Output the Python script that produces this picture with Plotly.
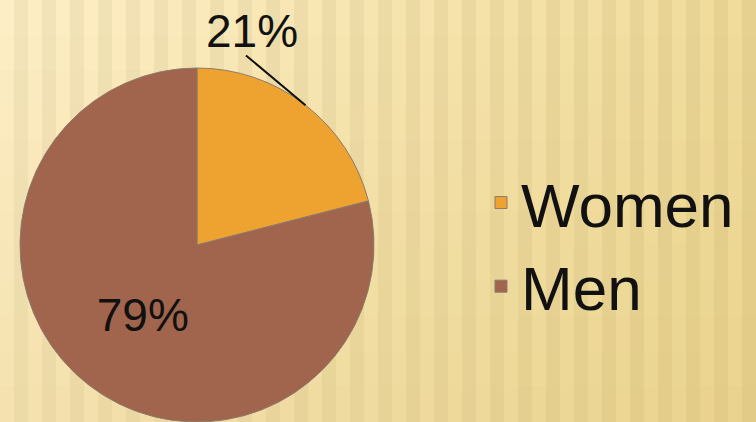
import math
import plotly.graph_objects as go

labels = ["Women", "Men"]
values = [21, 79]
colors = ["#EEA22F", "#A1644C"]
label_texts = ["21%", "79%"]

W, H = 756, 422
total = sum(values)

# pie geometry (pixels)
cx, cy, R = 197, 245, 177

fig = go.Figure()
fig.add_trace(go.Pie(
    labels=labels,
    values=values,
    sort=False,
    direction="clockwise",
    rotation=0,
    marker=dict(colors=colors, line=dict(color="#8C7B6B", width=1)),
    text=label_texts,
    texttemplate=["", "%{text}"],
    textposition="inside",
    textfont=dict(family="Liberation Sans, Arial", size=46, color="#111111"),
    insidetextorientation="horizontal",
    domain=dict(x=[(cx - R) / W, (cx + R) / W], y=[max(0, (H - cy - R) / H), (H - cy + R) / H]),
    showlegend=True,
    hoverinfo="label+percent",
))

# outside label for first slice with leader line
mid = 2 * math.pi * (values[0] / 2) / total
tip_x = cx + R * math.sin(mid)
tip_y = cy - R * math.cos(mid)
fig.add_annotation(
    x=tip_x / W, y=(H - tip_y) / H, xref="paper", yref="paper",
    text=" ", showarrow=True, arrowhead=0, arrowwidth=2,
    arrowcolor="#111111", ax=-61, ay=-51, standoff=0, startstandoff=0,
    font=dict(size=1),
)
fig.add_annotation(
    x=tip_x / W, y=(H - tip_y) / H, xref="paper", yref="paper",
    text=label_texts[0], showarrow=False, xshift=-53, yshift=74,
    xanchor="center", yanchor="middle",
    font=dict(family="Liberation Sans, Arial", size=46, color="#111111"),
)

# soft striped golden background
def lerp(a, b, t):
    return tuple(int(round(a[i] + (b[i] - a[i]) * t)) for i in range(3))

shapes = []
stripe_w = 14
n = W // stripe_w + 2
left_c, right_c = (248, 233, 192), (235, 214, 148)
for i in range(n):
    x0 = i * stripe_w
    t = min(1.0, x0 / W)
    base = lerp(left_c, right_c, t)
    d = 5 if i % 2 == 0 else -5
    c = tuple(max(0, min(255, v + d)) for v in base)
    shapes.append(dict(
        type="rect", xref="paper", yref="paper",
        x0=x0 / W, x1=(x0 + stripe_w) / W, y0=0, y1=1,
        fillcolor="rgb(%d,%d,%d)" % c, line=dict(width=0), layer="below",
    ))
bands = 12
for j in range(bands):
    y1 = 1 - j / bands
    y0 = 1 - (j + 1) / bands
    shapes.append(dict(
        type="rect", xref="paper", yref="paper",
        x0=0, x1=1, y0=y0, y1=y1,
        fillcolor="rgb(214,184,100)", opacity=0.22 * j / (bands - 1),
        line=dict(width=0), layer="below",
    ))

fig.update_layout(
    width=W, height=H,
    margin=dict(l=0, r=0, t=0, b=0),
    paper_bgcolor="#EEDBA2",
    plot_bgcolor="rgba(0,0,0,0)",
    shapes=shapes,
    font=dict(family="Liberation Sans, Arial", color="#111111"),
    legend=dict(
        x=481 / W, y=0.42, xanchor="left", yanchor="middle",
        font=dict(size=62, family="Liberation Sans, Arial", color="#111111"),
        bgcolor="rgba(0,0,0,0)", itemclick=False, itemdoubleclick=False,
    ),
)

fig.write_html(
    "out.html",
    config={"displayModeBar": False},
    post_script="document.body.style.margin='0';document.body.style.overflow='hidden';",
)
